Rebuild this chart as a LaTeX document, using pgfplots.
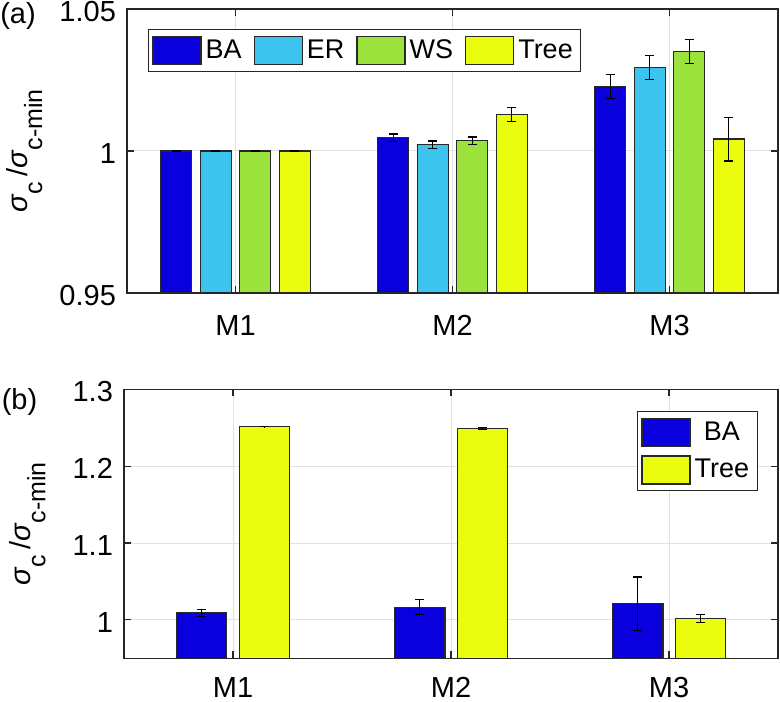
\documentclass[border=0pt]{standalone}
\usepackage{pgfplots}
\pgfplotsset{compat=1.18}
\usepackage{fontspec}
\setmainfont{Liberation Sans}
\definecolor{cBA}{RGB}{10,0,222}
\definecolor{cER}{RGB}{60,196,238}
\definecolor{cWS}{RGB}{156,226,60}
\definecolor{cTr}{RGB}{234,253,14}
\definecolor{edge}{RGB}{40,40,40}
\definecolor{axc}{RGB}{38,38,38}
\definecolor{gridc}{RGB}{226,226,226}
\newcommand{\sub}[1]{\raisebox{-7.5pt}{\fontsize{12.5}{14}\selectfont #1}}
\pgfplotsset{
  myax/.style={scale only axis, xmin=0.5, xmax=3.5, xtick={1,2,3}, xticklabels={M1,M2,M3},
    tick align=inside, major tick length=3.5pt, grid=major,
    major grid style={gridc, line width=0.5pt},
    axis line style={axc, line width=0.6pt}, tick style={axc, line width=0.6pt},
    ticklabel style={font=\fontsize{14.5}{16}\selectfont, text=black},
    yticklabel style={yshift=-1.3pt, xshift=-2pt},
    every axis y label/.style={at={(axis description cs:#1,0.5)}, rotate=90, anchor=center,
      font=\fontsize{14.5}{16}\selectfont},
    ylabel={\textit{σ}\sub{c}\,/\textit{σ}\sub{c-min}},
    legend style={draw=axc, line width=0.6pt, fill=white, font=\fontsize{13.5}{15}\selectfont,
      inner xsep=2pt, inner ysep=3pt},
  },
  mybar/.style={ybar, bar shift=0pt, fill=#1, draw=edge, line width=0.6pt,
    legend image code/.code={\draw[fill=#1, draw=edge, line width=0.6pt] (0pt,-7pt) rectangle (24pt,7pt);},
    error bars/.cd, y dir=both, y explicit,
    error bar style={black, line width=0.6pt},
    error mark options={black, rotate=90, mark size=2.3pt, line width=0.6pt}},
}
\begin{document}
\begin{tikzpicture}
\useasboundingbox (0,0) rectangle (390pt,350.5pt);
% ---------- (a)
\begin{axis}[myax=-0.158, at={(63.5pt,204pt)}, anchor=south west,
  width=325.5pt, height=142pt, ymin=0.95, ymax=1.05,
  ytick={0.95,1,1.05}, yticklabels={0.95,1,1.05},
  xticklabel style={yshift=-7.5pt},
  bar width=0.143,
  legend columns=4,
  legend style={at={(rel axis cs:0.032,0.93)}, anchor=north west,
    /tikz/every even column/.append style={column sep=4pt}},
]
\addplot[mybar=cBA] coordinates {(0.727,1.0000) +- (0,0.00005) (1.727,1.0047) +- (0,0.0013) (2.727,1.0226) +- (0,0.0042)};
\addplot[mybar=cER] coordinates {(0.909,1.0000) +- (0,0.00005) (1.909,1.0022) +- (0,0.0013) (2.909,1.0293) +- (0,0.0042)};
\addplot[mybar=cWS] coordinates {(1.091,1.0000) +- (0,0.00005) (2.091,1.0036) +- (0,0.0013) (3.091,1.0350) +- (0,0.0042)};
\addplot[mybar=cTr] coordinates {(1.273,1.0000) +- (0,0.00005) (2.273,1.0129) +- (0,0.0024) (3.273,1.0042) +- (0,0.0077)};
\legend{BA,ER,WS,Tree}
\end{axis}
% ---------- (b)
\begin{axis}[myax=-0.1475, at={(62pt,21.35pt)}, anchor=south west,
  width=327pt, height=134.5pt, ymin=0.95, ymax=1.3,
  ytick={1,1.1,1.2,1.3}, yticklabels={1,1.1,1.2,1.3},
  xticklabel style={yshift=-6pt},
  bar width=0.232,
  legend style={at={(rel axis cs:0.969,0.919)}, anchor=north east,
    /tikz/every odd row/.append style={row sep=4pt}},
]
\addplot[mybar=cBA] coordinates {(0.856,1.0091) +- (0,0.0043) (1.856,1.0165) +- (0,0.0095) (2.856,1.0208) +- (0,0.035)};
\addplot[mybar=cTr] coordinates {(1.144,1.2515) +- (0,0.0003) (2.144,1.2490) +- (0,0.0008) (3.144,1.0018) +- (0,0.005)};
\legend{BA,Tree}
\end{axis}
\node[font=\fontsize{14.5}{16}\selectfont] at (9pt,342.5pt) {(a)};
\node[font=\fontsize{14.5}{16}\selectfont] at (9.75pt,149.5pt) {(b)};
\end{tikzpicture}
\end{document}
